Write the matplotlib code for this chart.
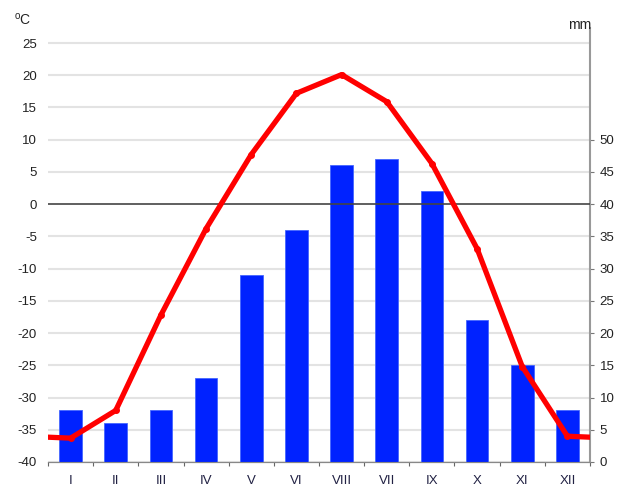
import matplotlib
matplotlib.use("Agg")
import matplotlib.pyplot as plt
import numpy as np

months = ["I", "II", "III", "IV", "V", "VI", "VIII", "VII", "IX", "X", "XI", "XII"]
temperature = [-36.3, -32.0, -17.2, -3.8, 7.7, 17.2, 20.1, 15.9, 6.3, -6.9, -25.2, -36.0]
precipitation = [8, 6, 8, 13, 29, 36, 46, 47, 42, 22, 15, 8]

plt.rcParams['font.family'] = ['Liberation Sans', 'DejaVu Sans']

fig = plt.figure(figsize=(6.25, 4.88), dpi=100)
ax = fig.add_axes([48/625, 1-462/488, (590-48)/625, (462-28)/488])
ax2 = ax.twinx()

t_lo, t_hi = -40, 27.33
ax.set_ylim(t_lo, t_hi)
ax2.set_ylim(0, t_hi - t_lo)
x = np.arange(len(months))
ax.set_xlim(-0.5, len(months) - 0.5)

# bars on right axis
ax2.bar(x, precipitation, width=0.5, color="#0022ff", edgecolor="#4466ff", linewidth=0.6, zorder=2)

# grid on left axis
yt = np.arange(-40, 30, 5)
ax.set_yticks(yt)
for v in yt:
    if v == 0:
        continue
    ax.axhline(v, color="#e3e3e3", lw=1.5, zorder=0)
ax2.axhline(-t_lo, color="#444444", lw=1.2, zorder=3)

# temperature line (wrap around year at edges)
xt = np.concatenate([[-1], x, [len(months)]])
tt = np.concatenate([[temperature[-1]], temperature, [temperature[0]]])
tt_r = np.array(tt) - t_lo
ax2.plot(xt, tt_r, color="#ff0000", lw=3.8, marker="o", ms=4, zorder=4, clip_on=True)
ax2.set_xlim(-0.5, len(months) - 0.5)

ax.set_zorder(ax2.get_zorder() - 1)
ax2.patch.set_visible(False)

for a in (ax, ax2):
    a.spines['top'].set_visible(False)
    a.spines['left'].set_visible(False)
    a.spines['right'].set_visible(False)
    a.spines['bottom'].set_color("#888888")
ax2.spines['right'].set_visible(True)
ax2.spines['right'].set_color("#999999")
ax2.spines['right'].set_linewidth(1.5)

ax.tick_params(axis='y', length=0, labelsize=9.5, labelcolor="#222222", pad=8)
ax.set_yticklabels([str(v) for v in yt])
ax2.set_yticks(np.arange(0, 55, 5))
ax2.tick_params(axis='y', length=3, color="#777777", labelsize=9.5, labelcolor="#222222", pad=4)

ax.set_xticks(np.arange(-0.5, len(months), 1), minor=False)
ax.set_xticklabels([])
ax.set_xticks(x, minor=True)
ax.set_xticklabels(months, minor=True)
ax.tick_params(axis='x', which='major', length=3, color="#666666")
ax.tick_params(axis='x', which='minor', length=0, labelsize=9.5, labelcolor="#222244", pad=9)
ax2.tick_params(axis='x', length=0)

fig.text(14/625, 1-20/488, r"$^{\mathregular{o}}$C", fontsize=10, color="#222222", va="center", ha="left")
fig.text(568/625, 1-25/488, "mm", fontsize=10, color="#222222", va="center", ha="left")

fig.savefig("out.png", dpi=100)
